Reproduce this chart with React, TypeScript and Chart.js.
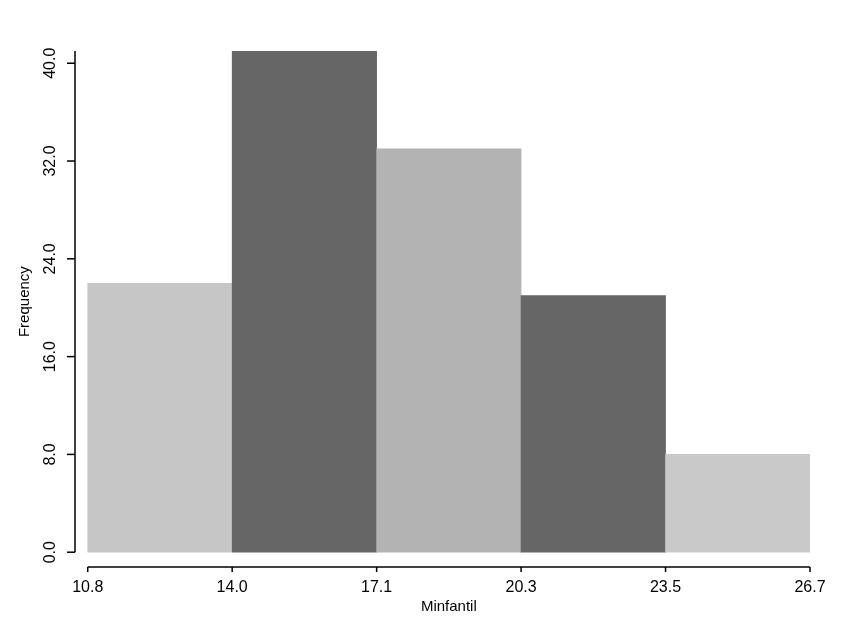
import React, { useEffect, useRef } from "react";
import { Chart, registerables } from "chart.js";

Chart.register(...registerables);

// Histogram data
const binBreaks = [10.8, 13.98, 17.16, 20.34, 23.52, 26.7];
const breakLabels = ["10.8", "14.0", "17.1", "20.3", "23.5", "26.7"];
const frequencies = [22, 41, 33, 21, 8];
const barColors = ["#c6c6c6", "#666666", "#b3b3b3", "#666666", "#c9c9c9"];
const yTicks = [0, 8, 16, 24, 32, 40];
const yTickLabels = ["0.0", "8.0", "16.0", "24.0", "32.0", "40.0"];
const xTitle = "Minfantil";
const yTitle = "Frequency";

const FONT = '"Liberation Sans", Arial, sans-serif';

const rAxesPlugin = {
  id: "rAxes",
  afterDraw(chart: any) {
    const { ctx, chartArea } = chart;
    const xs = chart.scales.x;
    const ys = chart.scales.y;
    const axisX = chartArea.left;
    const axisY = chartArea.bottom;
    ctx.save();
    ctx.strokeStyle = "#000";
    ctx.lineWidth = 1.5;
    ctx.lineCap = "butt";

    // y axis
    const yTop = ys.getPixelForValue(Math.max(...frequencies));
    const y0 = ys.getPixelForValue(0);
    ctx.beginPath();
    ctx.moveTo(axisX, y0);
    ctx.lineTo(axisX, yTop);
    ctx.stroke();
    ctx.fillStyle = "#000";
    ctx.font = `16px ${FONT}`;
    ctx.textAlign = "center";
    ctx.textBaseline = "middle";
    yTicks.forEach((v, i) => {
      const py = ys.getPixelForValue(v);
      ctx.beginPath();
      ctx.moveTo(axisX - 8, py);
      ctx.lineTo(axisX, py);
      ctx.stroke();
      ctx.save();
      ctx.translate(axisX - 24, py);
      ctx.rotate(-Math.PI / 2);
      ctx.fillText(yTickLabels[i], 0, 0);
      ctx.restore();
    });

    // x axis
    const xStart = xs.getPixelForValue(binBreaks[0]);
    const xEnd = xs.getPixelForValue(binBreaks[binBreaks.length - 1]);
    ctx.beginPath();
    ctx.moveTo(xStart, axisY);
    ctx.lineTo(xEnd, axisY);
    ctx.stroke();
    binBreaks.forEach((v, i) => {
      const px = xs.getPixelForValue(v);
      ctx.beginPath();
      ctx.moveTo(px, axisY);
      ctx.lineTo(px, axisY + 5);
      ctx.stroke();
      ctx.fillText(breakLabels[i], px, axisY + 21);
    });

    // titles
    ctx.font = `15px ${FONT}`;
    ctx.fillText(xTitle, (xStart + xEnd) / 2, axisY + 40);
    ctx.save();
    ctx.translate(25, (y0 + yTop) / 2);
    ctx.rotate(-Math.PI / 2);
    ctx.fillText(yTitle, 0, 0);
    ctx.restore();
    ctx.restore();
  },
};

export default function App() {
  const canvasRef = useRef<HTMLCanvasElement | null>(null);

  useEffect(() => {
    if (!canvasRef.current) return;
    const centers = frequencies.map((_, i) => (binBreaks[i] + binBreaks[i + 1]) / 2);
    const chart = new Chart(canvasRef.current, {
      type: "bar",
      data: {
        datasets: [
          {
            data: centers.map((c, i) => ({ x: c, y: frequencies[i] })) as any,
            backgroundColor: barColors,
            borderWidth: 0,
            barPercentage: 1,
            categoryPercentage: 1,
          },
        ],
      },
      options: {
        responsive: false,
        animation: false,
        layout: { padding: { left: 75, right: 36, top: 51, bottom: 67 } },
        scales: {
          x: {
            type: "linear",
            min: 10.52,
            max: 26.7,
            offset: false,
            display: false,
            grid: { offset: false },
            afterBuildTicks: (scale: any) => {
              scale.ticks = binBreaks.map((v) => ({ value: v }));
            },
          },
          y: { min: -1.21, max: 41, display: false },
        },
        plugins: { legend: { display: false }, tooltip: { enabled: false } },
      },
      plugins: [rAxesPlugin],
    });
    return () => chart.destroy();
  }, []);

  return (
    <div style={{ position: "absolute", left: 0, top: 0, width: 846, height: 634, background: "#fff" }}>
      <canvas ref={canvasRef} width={846} height={634} />
    </div>
  );
}
